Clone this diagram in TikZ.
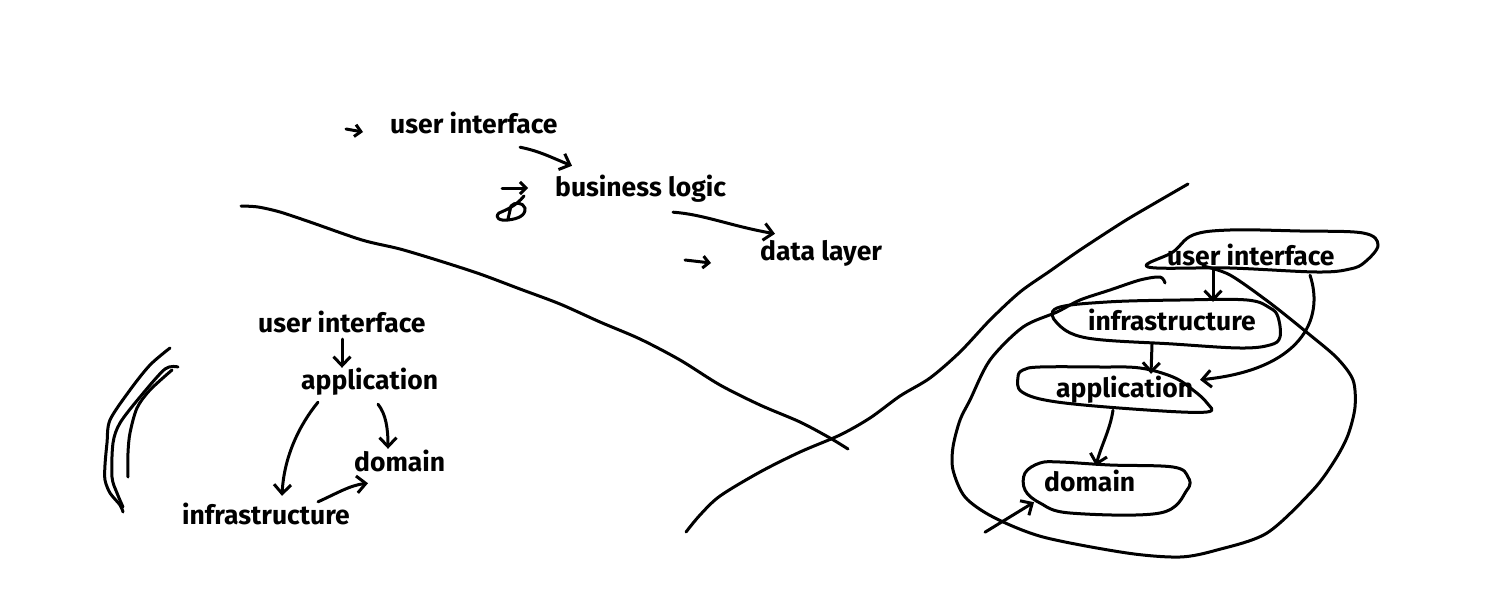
\documentclass[tikz,border=0pt]{standalone}
\usepackage{fontspec}
\setmainfont{Fira Sans}
\usetikzlibrary{arrows.meta}

\tikzset{
  pen/.style={line width=3pt, line cap=round, line join=round},
  arr/.style={pen, -{Straight Barb[length=9pt,width=17pt]}},
  arrsmall/.style={pen, -{Straight Barb[length=6pt,width=12pt]}},
  lbl/.style={anchor=base west, inner sep=0pt, text height=17pt, text depth=5pt,
    font=\fontsize{26.5}{30}\selectfont\bfseries},
}

\begin{document}
\begin{tikzpicture}[x=1pt,y=1pt,yscale=-1]
\fill[white] (0,0) rectangle (1485,607);
\useasboundingbox (0,0) rectangle (1485,607);

% Text Node
\node[lbl] (uiA) at (390,134) {user interface};
% Text Node
\node[lbl] (bizA) at (555,196) {business logic};
% Text Node
\node[lbl] (dataA) at (760,260) {data layer};

%Straight Lines
\draw[arrsmall] ([shift={(-44,1)}]uiA.west) -- ([shift={(-27,4)}]uiA.west);
%Curve Lines
\draw[arr] ([shift={(130,8)}]uiA.south west) .. controls +(20,4) and +(-20,-8) .. ([shift={(17,-13)}]bizA.north west);
%Straight Lines
\draw[arrsmall] ([shift={(-53,-2)}]bizA.west) -- ([shift={(-27,-2)}]bizA.west);
%Shape: scribble
\draw[pen] (524,196) .. controls (516,206) and (506,210) .. (499,213) .. controls (494,218) and (500,221) .. (508,220) .. controls (517,219) and (526,216) .. (525,208) .. controls (523,202) and (514,202) .. (511,206) -- (508,219);
%Curve Lines
\draw[arr] ([shift={(118,11)}]bizA.south west) .. controls +(30,2) and +(-45,-8) .. ([shift={(15,-9)}]dataA.north west);
%Straight Lines
\draw[arrsmall] ([shift={(-75,6)}]dataA.west) -- ([shift={(-49,9)}]dataA.west);

%Curve Lines [long divider left]
\draw[pen] plot[smooth] coordinates {(241,206) (258,207) (280,212) (310,222) (362,240) (400,249) (440,261) (480,274) (520,289) (560,304) (600,322) (640,339) (680,360) (720,385) (760,405) (800,422) (830,438) (848,449)};
%Curve Lines [long divider right]
\draw[pen] plot[smooth] coordinates {(686,532) (700,515) (720,496) (760,472) (800,452) (840,435) (870,418) (900,396) (930,378) (960,352) (990,320) (1020,292) (1050,271) (1080,250) (1123,222) (1150,206) (1188,184)};

% Text Node
\node[lbl] (uiB) at (258,332) {user interface};
% Text Node
\node[lbl] (appB) at (301,389) {application};
% Text Node
\node[lbl] (domB) at (354,471) {domain};
% Text Node
\node[lbl] (infB) at (182,524) {infrastructure};

%Straight Lines
\draw[arr] ([shift={(84,2)}]uiB.south west) -- ([shift={(41,-4)}]appB.north west);
%Curve Lines
\draw[arr] ([shift={(17,8)}]appB.south west) .. controls +(-18,22) and +(2,-40) .. ([shift={(100,-11)}]infB.north west);
%Curve Lines
\draw[arr] ([shift={(77,10)}]appB.south west) .. controls +(8,10) and +(0,-20) .. ([shift={(34,-5)}]domB.north west);
%Curve Lines
\draw[arr] ([shift={(136,-5)}]infB.north west) .. controls +(18,-8) and +(-18,2) .. ([shift={(14,7)}]domB.south west);

%Curve Lines [arcs]
\draw[pen] plot[smooth] coordinates {(170,348) (150,365) (130,390) (110,420) (107,443) (105,465) (105,480) (110,493) (120,505) (123,512)};
\draw[pen] plot[smooth] coordinates {(178,367) (165,369) (140,397) (120,423) (113,443) (112,477) (117,493) (123,507)};
\draw[pen] plot[smooth] coordinates {(172,370) (150,390) (137,408) (130,433) (128,453) (128,477)};

% Text Node
\node[lbl] (uiC) at (1167,265) {user interface};
% Text Node
\node[lbl] (infC) at (1088,330) {infrastructure};
% Text Node
\node[lbl] (appC) at (1056,397) {application};
% Text Node
\node[lbl] (domC) at (1044,491) {domain};

%Shape: blobs
\draw[pen] plot[smooth cycle, tension=0.6] coordinates {(1148,267) (1173,252) (1193,235) (1230,230) (1300,231) (1363,233) (1378,245) (1365,262) (1350,269) (1317,272) (1230,268)};
\draw[pen] plot[smooth cycle, tension=0.6] coordinates {(1057,308) (1107,302) (1180,300) (1247,300) (1270,308) (1278,317) (1280,337) (1270,345) (1240,348) (1173,344) (1087,338) (1057,323)};
\draw[pen] plot[smooth cycle, tension=0.6] coordinates {(1018,377) (1023,370) (1040,367) (1100,367) (1140,368) (1173,377) (1193,390) (1207,403) (1207,412) (1147,410) (1057,402) (1022,392)};
\draw[pen] plot[smooth cycle, tension=0.6] coordinates {(1060,462) (1110,465) (1173,467) (1188,477) (1187,490) (1160,513) (1070,513) (1040,503) (1025,490) (1025,473) (1040,463)};

%Curve Lines [big loop]
\draw[pen] plot[smooth] coordinates {(1203,266) (1230,275) (1270,303) (1310,335) (1337,358) (1353,380) (1355,407) (1348,435) (1335,460) (1313,490) (1267,533) (1217,550) (1180,557) (1127,553) (1043,537) (993,517) (965,497) (953,470) (953,447) (960,420) (970,400) (990,360) (1023,327) (1057,312) (1080,300) (1110,290) (1140,280) (1160,277) (1165,283)};

%Straight Lines
\draw[arr] ([shift={(46,0)}]uiC.south west) -- ([shift={(125,-11)}]infC.north west);
%Straight Lines
\draw[arr] ([shift={(64,9)}]infC.south west) -- ([shift={(95,-6)}]appC.north west);
%Curve Lines
\draw[arr] ([shift={(57,8)}]appC.south west) .. controls +(-3,20) and +(5,-20) .. ([shift={(52,-8)}]domC.north west);
%Curve Lines
\draw[arr] ([shift={(143,5)}]uiC.south west) .. controls +(15,45) and +(100,-10) .. ([shift={(144,0)}]appC.north west);
%Straight Lines
\draw[arr] ([shift={(-59,36)}]domC.south west) -- ([shift={(-10,6)}]domC.south west);
\end{tikzpicture}
\end{document}
